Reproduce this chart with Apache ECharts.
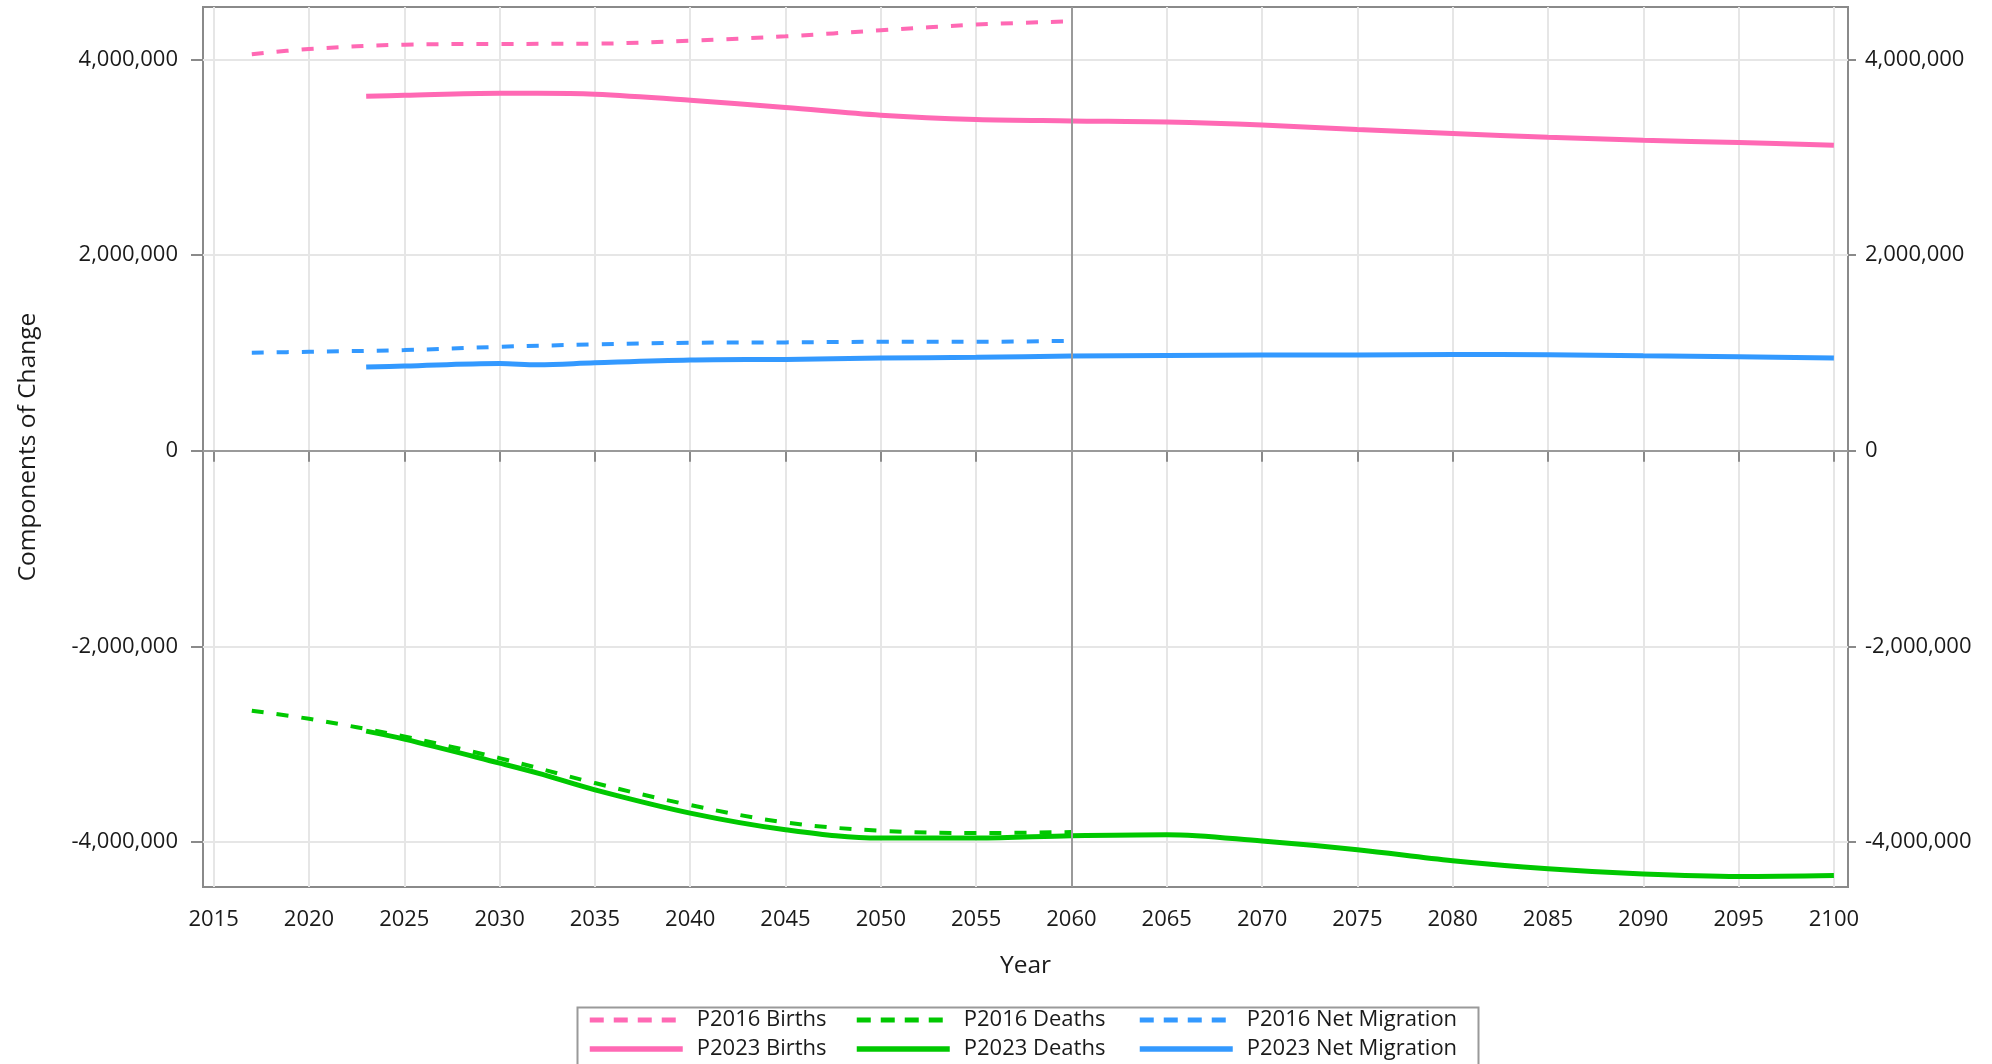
<!DOCTYPE html>
<html>
<head>
<meta charset="utf-8">
<script src="https://cdn.jsdelivr.net/npm/echarts@6/dist/echarts.min.js"></script>
<style>
html,body{margin:0;padding:0;background:#ffffff;}
#c{width:1992px;height:1064px;}
</style>
</head>
<body>
<div id="c"></div>
<script>
// ---- data ----
const xTicks = [2015,2020,2025,2030,2035,2040,2045,2050,2055,2060,2065,2070,2075,2080,2085,2090,2095,2100];
const yTicks = [-4000000,-2000000,0,2000000,4000000];

const years2016 = [2017,2020,2025,2030,2035,2040,2045,2050,2055,2060];
const births2016 = [4054000,4108000,4153000,4160000,4163000,4194000,4238000,4300000,4358000,4392000];
const deaths2016 = [-2660000,-2742000,-2923000,-3144000,-3399000,-3624000,-3802000,-3887000,-3910000,-3900000];
const migration2016 = [1002000,1012000,1029000,1063000,1087000,1104000,1108000,1114000,1114000,1124000];

const years2023 = [2023,2025,2030,2032,2035,2040,2045,2050,2055,2060,2065,2070,2075,2080,2085,2090,2095,2100];
const births2023 = [3625000,3635000,3655000,3655000,3645000,3584000,3510000,3431000,3387000,3373000,3362000,3332000,3285000,3244000,3206000,3175000,3152000,3124000];
const deaths2023 = [-2868000,-2950000,-3195000,-3297000,-3468000,-3706000,-3876000,-3962000,-3962000,-3938000,-3927000,-3992000,-4081000,-4193000,-4275000,-4329000,-4354000,-4344000];
const migration2023 = [855000,866000,893000,878000,899000,927000,934000,947000,955000,968000,975000,978000,978000,985000,982000,971000,961000,947000];

const seriesNames = ['P2016 Births','P2016 Deaths','P2016 Net Migration','P2023 Births','P2023 Deaths','P2023 Net Migration'];
const PINK = '#FF69B4', GREEN = '#00C800', BLUE = '#3399FF';

function pairs(xs, ys){ return xs.map((x,i)=>[x, ys[i]]); }

const FONT = '"Open Sans", "Noto Sans", sans-serif';
const TXT = '#1a1a1a';
const DASH = [12, 13];

function mkSeries(name, xs, ys, color, dashed){
  return {
    name: name, type: 'line', data: pairs(xs, ys),
    symbol: 'none', showSymbol: false, smooth: 0.35,
    lineStyle: {color: color, width: dashed ? 4 : 5, type: dashed ? DASH : 'solid'},
    itemStyle: {color: color},
    z: 3
  };
}

const series = [
  mkSeries(seriesNames[0], years2016, births2016, PINK, true),
  mkSeries(seriesNames[1], years2016, deaths2016, GREEN, true),
  mkSeries(seriesNames[2], years2016, migration2016, BLUE, true),
  mkSeries(seriesNames[3], years2023, births2023, PINK, false),
  mkSeries(seriesNames[4], years2023, deaths2023, GREEN, false),
  mkSeries(seriesNames[5], years2023, migration2023, BLUE, false)
];
series[0].markLine = {
  silent: true, symbol: ['none','none'], label: {show: false},
  lineStyle: {color: '#9a9a9a', type: 'solid', width: 2},
  data: [{yAxis: 0}, {xAxis: 2060}],
  animation: false
};

const fmt = v => Number(v).toLocaleString('en-US');

function legendItem(name, color, dashed){
  return {name: name, itemStyle: {opacity: 0}, lineStyle: {color: color, width: dashed ? 5 : 5.5, type: dashed ? [14, 10] : 'solid', opacity: 1}};
}
function legendCol(items, left){
  return {
    data: items, orient: 'vertical', left: left, top: 1008,
    itemWidth: 93, itemHeight: 14, itemGap: 5, padding: 0,
    selectedMode: false,
    itemStyle: {opacity: 0},
    textStyle: {fontFamily: FONT, fontSize: 22, color: TXT, lineHeight: 24, padding: [0,0,0,9]}
  };
}

const option = {
  animation: false,
  backgroundColor: '#ffffff',
  grid: {left: 203, right: 144, top: 7, bottom: 177, show: true, borderColor: '#8a8a8a', borderWidth: 2, backgroundColor: 'transparent'},
  xAxis: {
    type: 'value', min: 2014.44, max: 2100.74,
    name: 'Year', nameLocation: 'middle', nameGap: 67,
    nameTextStyle: {fontFamily: FONT, fontSize: 24.5, color: TXT},
    axisLine: {show: false},
    axisTick: {show: true, length: 11, lineStyle: {color: '#8a8a8a', width: 2}, customValues: xTicks},
    axisLabel: {fontFamily: FONT, fontSize: 22, color: TXT, margin: 22, customValues: xTicks, formatter: v => String(v)},
    splitLine: {show: true, lineStyle: {color: '#e6e6e6', width: 2}}
  },
  yAxis: [
    {
      type: 'value', min: -4462000, max: 4538000, position: 'left',
      name: 'Components of Change', nameLocation: 'middle', nameGap: 162, nameRotate: 90,
      nameTextStyle: {fontFamily: FONT, fontSize: 24.5, color: TXT},
      axisLine: {show: false},
      axisTick: {show: true, length: 12, lineStyle: {color: '#8a8a8a', width: 2}, customValues: yTicks},
      axisLabel: {fontFamily: FONT, fontSize: 22, color: TXT, margin: 25, customValues: yTicks, formatter: fmt},
      splitLine: {show: true, lineStyle: {color: '#e6e6e6', width: 2}}
    },
    {
      type: 'value', min: -4462000, max: 4538000, position: 'right',
      axisLine: {show: false},
      axisTick: {show: true, length: 8, lineStyle: {color: '#8a8a8a', width: 2}, customValues: yTicks},
      axisLabel: {fontFamily: FONT, fontSize: 22, color: TXT, margin: 17, customValues: yTicks, formatter: fmt},
      splitLine: {show: false}
    }
  ],
  legend: [
    legendCol([legendItem(seriesNames[0], PINK, true), legendItem(seriesNames[3], PINK, false)], 587),
    legendCol([legendItem(seriesNames[1], GREEN, true), legendItem(seriesNames[4], GREEN, false)], 854),
    legendCol([legendItem(seriesNames[2], BLUE, true), legendItem(seriesNames[5], BLUE, false)], 1137)
  ],
  graphic: [{
    type: 'rect', left: 575, top: 1005, z: 0,
    shape: {width: 901, height: 80},
    style: {fill: 'none', stroke: '#9a9a9a', lineWidth: 2}
  }],
  series: series
};

const chart = echarts.init(document.getElementById('c'), null, {renderer: 'canvas'});
chart.setOption(option);
</script>
</body>
</html>
